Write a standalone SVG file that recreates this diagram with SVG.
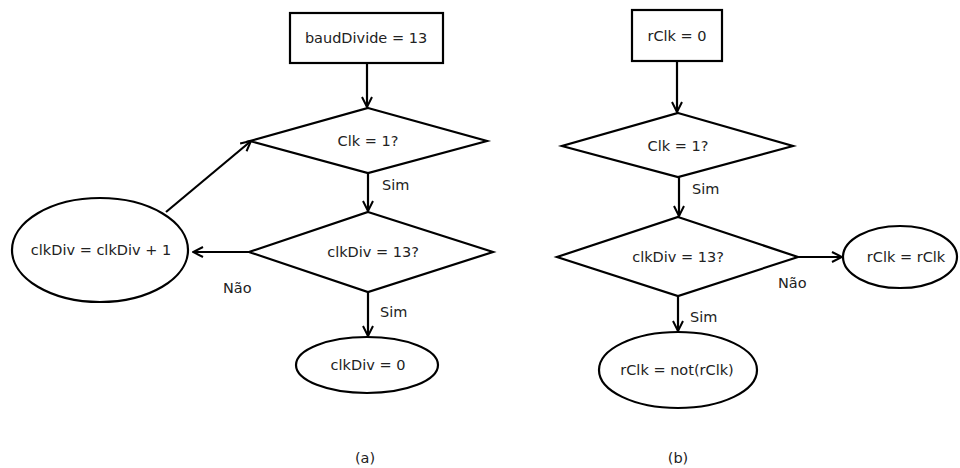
<svg xmlns="http://www.w3.org/2000/svg" width="960" height="468" viewBox="0 0 960 468">
<defs>
<marker id="arr" viewBox="0 0 12 12" refX="11" refY="6" markerWidth="12" markerHeight="12" markerUnits="userSpaceOnUse" orient="auto">
<path d="M1,1 L11,6 L1,11" fill="none" stroke="#000" stroke-width="2"/>
</marker>
<style>
.s{fill:#fff;stroke:#000;stroke-width:2.2}
.t{font-family:"DejaVu Sans","Liberation Sans",sans-serif;font-size:14.5px;fill:#222;text-anchor:middle}
.l{font-family:"DejaVu Sans","Liberation Sans",sans-serif;font-size:14.5px;fill:#222}
.c{fill:none;stroke:#000;stroke-width:2.2;marker-end:url(#arr)}
</style>
</defs>
<rect width="960" height="468" fill="#fff"/>
<g id="connectors">
<line class="c" x1="367" y1="63" x2="367" y2="107"/>
<line class="c" x1="368" y1="173" x2="368" y2="211"/>
<line class="c" x1="250" y1="252" x2="193" y2="252"/>
<line class="c" x1="166" y1="212" x2="251" y2="141"/>
<line class="c" x1="368" y1="292" x2="368" y2="336"/>
<line class="c" x1="677" y1="61" x2="677" y2="112"/>
<line class="c" x1="679" y1="177" x2="679" y2="216"/>
<line class="c" x1="798" y1="257" x2="842" y2="257"/>
<line class="c" x1="678" y1="296" x2="678" y2="331"/>
</g>
<g id="labels">
<text class="l" x="382" y="190">Sim</text>
<text class="l" x="380" y="317">Sim</text>
<text class="l" x="223" y="293">Não</text>
<text class="l" x="692" y="194">Sim</text>
<text class="l" x="690" y="322">Sim</text>
<text class="l" x="778" y="288">Não</text>
<text class="t" x="365" y="463">(a)</text>
<text class="t" x="678" y="463">(b)</text>
</g>
<g id="a_init">
<rect class="s" x="290" y="13" width="153" height="50"/>
<text class="t" x="366" y="43">baudDivide = 13</text>
</g>
<g id="a_clk">
<polygon class="s" points="368,108 487,141 368,173 250,141"/>
<text class="t" x="368" y="146">Clk = 1?</text>
</g>
<g id="a_div">
<polygon class="s" points="368,212 493,252 368,292 249,252"/>
<text class="t" x="373" y="257">clkDiv = 13?</text>
</g>
<g id="a_inc">
<ellipse class="s" cx="100" cy="250" rx="88" ry="52"/>
<text class="t" x="101" y="255">clkDiv = clkDiv + 1</text>
</g>
<g id="a_zero">
<ellipse class="s" cx="367" cy="365" rx="71" ry="28"/>
<text class="t" x="368" y="370">clkDiv = 0</text>
</g>
<g id="b_init">
<rect class="s" x="632" y="10" width="90" height="51"/>
<text class="t" x="677" y="41">rClk = 0</text>
</g>
<g id="b_clk">
<polygon class="s" points="678,113 793,146 678,177 562,146"/>
<text class="t" x="678" y="151">Clk = 1?</text>
</g>
<g id="b_div">
<polygon class="s" points="678,217 798,257 678,296 557,257"/>
<text class="t" x="678" y="262">clkDiv = 13?</text>
</g>
<g id="b_keep">
<ellipse class="s" cx="900" cy="257" rx="57" ry="31"/>
<text class="t" x="906" y="262">rClk = rClk</text>
</g>
<g id="b_not">
<ellipse class="s" cx="678" cy="370" rx="79" ry="38"/>
<text class="t" x="677" y="375">rClk = not(rClk)</text>
</g>
</svg>
